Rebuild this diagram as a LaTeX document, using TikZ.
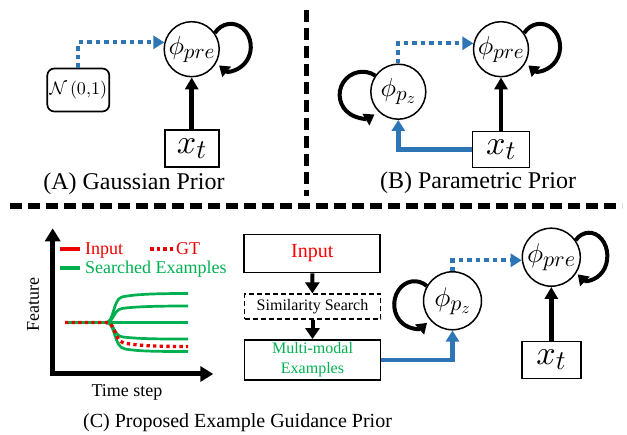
\documentclass[tikz,border=0pt]{standalone}
\usepackage{fontspec}
\setmainfont{Liberation Serif}
\usetikzlibrary{arrows.meta}
% scalable math fonts for the large symbols
\DeclareFontShape{OML}{cmm}{m}{it}{<-6>cmmi5<6-8>cmmi7<8->cmmi10}{}
\DeclareFontShape{OMS}{cmsy}{m}{n}{<-6>cmsy5<6-8>cmsy7<8->cmsy10}{}
\DeclareFontShape{OT1}{cmr}{m}{n}{<-6>cmr5<6-8>cmr7<8->cmr10}{}
\DeclareMathSizes{26}{26}{21}{16}
\DeclareMathSizes{27}{27}{22}{16}
\DeclareMathSizes{34}{34}{27}{20}
\definecolor{pblue}{RGB}{46,117,182}
\definecolor{pgreen}{RGB}{0,176,80}
\definecolor{pred}{RGB}{235,0,0}
\begin{document}
\begin{tikzpicture}[x=1pt,y=-1pt,
  phi/.style={circle,draw,line width=1.5pt,minimum size=55pt,inner sep=0pt,font=\fontsize{26}{26}\selectfont},
  phic/.style={phi,minimum size=58pt,font=\fontsize{27}{27}\selectfont},
  xbox/.style={rectangle,draw,line width=1.8pt,minimum width=54pt,minimum height=37pt,inner sep=0pt,font=\fontsize{34}{34}\selectfont},
  loopar/.style={line width=4pt,-{Triangle[length=10pt,width=13pt]}},
  feed/.style={line width=4.5pt,-{Triangle[length=12pt,width=13pt]}},
  bluedot/.style={draw=pblue,line width=4.2pt,dash pattern=on 4.5pt off 4pt,-{Triangle[length=11pt,width=13pt]}},
  blueline/.style={draw=pblue,line width=4.5pt,-{Triangle[length=11pt,width=13pt]}},
  sep/.style={line width=5.5pt,dash pattern=on 12pt off 6pt},
  caption/.style={inner sep=0pt,font=\fontsize{24}{24}\selectfont},
  flowbox/.style={rectangle,draw,line width=1.8pt,minimum width=136pt,inner sep=0pt},
  flowar/.style={line width=4pt,-{Triangle[length=11pt,width=14pt]}},
  curve/.style={pgreen,line width=2.7pt},
  legtext/.style={anchor=base west,inner sep=0pt,font=\fontsize{18}{18}\selectfont},
  axislabel/.style={inner sep=0pt,font=\fontsize{18}{18}\selectfont}
]
\useasboundingbox (0,0) rectangle (627,435);

% ---------- (A) Gaussian prior ----------
\node[phi] (preA) at (191.7,49.2) {$\phi_{pre}$};
\node[xbox] (xA) at (191.7,148.3) {$x_t$};
\node[draw,rounded corners=7pt,line width=1.7pt,minimum width=62pt,minimum height=43pt,inner sep=0pt,
      font=\fontsize{18}{18}\selectfont] (nA) at (78.3,90) {$\mathcal{N}\,(0{,}1)$};
\draw[bluedot] (nA.north) |- (preA.166);
\draw[feed] (xA) -- (preA);
\draw[loopar] (preA.35) arc[start angle=143,end angle=-126,x radius=20pt,y radius=23pt];
\node[caption] (capA) at (134,184) {(A) Gaussian Prior};

% separator between (A) and (B)
\coordinate (vs1) at (306.5,10);
\coordinate (vs2) at (306.5,196);
\draw[sep] (vs1) -- (vs2);

% ---------- (B) Parametric prior ----------
\node[phi] (preB) at (501,49.2) {$\phi_{pre}$};
\node[phi] (pzB) at (398.3,91.7) {$\phi_{p_z}$};
\node[xbox,minimum width=57pt,minimum height=36pt] (xB) at (501,149.5) {$x_t$};
\draw[bluedot] (pzB.north) |- (preB.168);
\draw[blueline] (xB.west) -| (pzB.south);
\draw[feed] (xB) -- (preB);
\draw[loopar] (preB.35) arc[start angle=143,end angle=-126,x radius=20pt,y radius=23pt];
\draw[loopar] (pzB.145) arc[start angle=57,end angle=301,x radius=23pt,y radius=23pt];
\node[caption] (capB) at (478,183) {(B) Parametric Prior};

% separator above (C)
\coordinate (hs1) at (10,206);
\coordinate (hs2) at (622,206);
\draw[sep] (hs1) -- (hs2);

% ---------- (C) Example guidance prior ----------
% feature plot
\coordinate (O) at (52.7,374);
\coordinate (ytip) at (52.7,228.3);
\coordinate (xtip) at (213.3,374);
\draw[line width=5pt,{Triangle[length=13pt,width=15pt]}-{Triangle[length=13pt,width=15pt]}] (ytip) -- (O) -- (xtip);
\node[axislabel,rotate=90] (feat) at (33,305) {Feature};
\node[axislabel] (tstep) at (127,392) {Time step};

% legend
\draw[pred,line width=3.8pt] (60,249.3) -- (80,249.3);
\node[legtext,text=pred] (lin) at (85,255) {Input};
\draw[pred,line width=3.8pt,dash pattern=on 3.5pt off 3pt] (150,249.3) -- (173,249.3);
\node[legtext,text=pred] (lgt) at (176,255) {GT};
\draw[pgreen,line width=3.8pt] (60,267.7) -- (80,267.7);
\node[legtext,text=pgreen] (lse) at (85,274) {Searched Examples};

% searched example curves
\draw[curve] (65,322.5) -- (188,322.5);
\draw[curve] (106,322.5) .. controls (114,322.5) and (113,299) .. (122,297) .. controls (135,294) and (160,293.5) .. (188,293.5);
\draw[curve] (106,322.5) .. controls (114,322.5) and (113,310) .. (122,308.5) .. controls (135,306.5) and (160,306) .. (188,306);
\draw[curve] (106,322.5) .. controls (115,322.5) and (113,336) .. (123,337) .. controls (140,339) and (160,339) .. (188,339);
\draw[curve] (106,322.5) .. controls (116,322.5) and (113,347) .. (125,349) .. controls (140,351.5) and (160,351.5) .. (188,351.5);
% ground truth
\draw[pred,line width=3.3pt,dash pattern=on 3.3pt off 3.3pt] (65,322.5) -- (106,322.5) .. controls (116,322.5) and (114,341) .. (124,343) .. controls (140,346) and (160,346.5) .. (188,346.5);

% retrieval pipeline
\node[flowbox,minimum height=38pt,text=red,font=\fontsize{20}{20}\selectfont] (inp) at (312.2,253.5) {Input};
\node[flowbox,minimum height=25pt,dashed,dash pattern=on 5pt off 3pt,font=\fontsize{16}{16}\selectfont] (sim) at (312.5,306.8) {Similarity Search};
\node[flowbox,minimum height=40pt,text=pgreen,align=center,font=\fontsize{16}{20}\selectfont] (mm) at (312.5,360) {Multi-modal\\Examples};
\draw[flowar] (inp) -- (sim);
\draw[flowar] (sim) -- (mm);

% prior networks
\node[phic] (preC) at (551.3,257.2) {$\phi_{pre}$};
\node[phic] (pzC) at (452.5,300.8) {$\phi_{p_z}$};
\node[xbox,minimum width=59pt,minimum height=37pt] (xC) at (551.3,360) {$x_t$};
\draw[bluedot] (pzC.north) |- (preC.186);
\draw[blueline] (mm.east) -| (pzC.south);
\draw[feed] (xC) -- (preC);
\draw[loopar] (preC.35) arc[start angle=137,end angle=-128,x radius=18.3pt,y radius=23.3pt];
\draw[loopar] (pzC.150) arc[start angle=53,end angle=308,x radius=20.3pt,y radius=23.3pt];

\node[caption,font=\fontsize{20}{20}\selectfont] (capC) at (237.5,423) {(C) Proposed Example Guidance Prior};
\end{tikzpicture}
\end{document}
